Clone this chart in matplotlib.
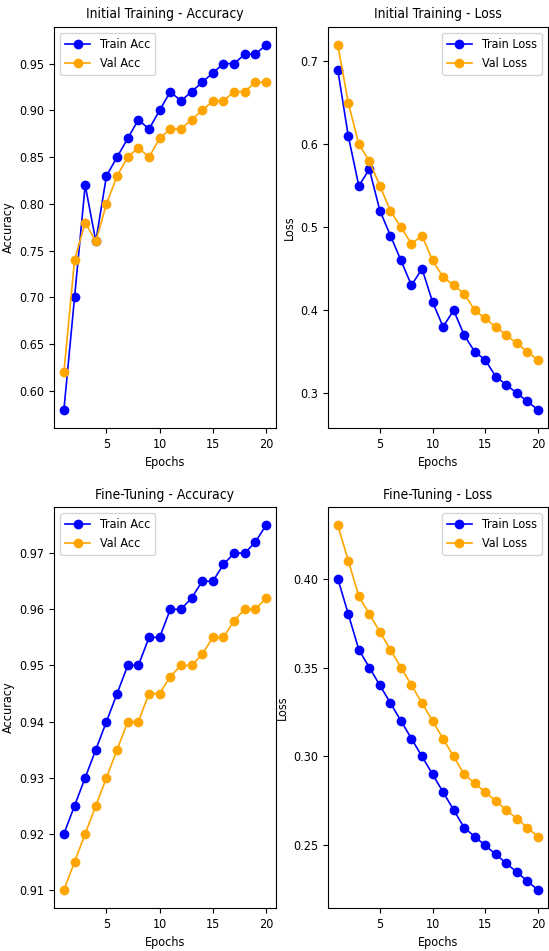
import numpy as np
import matplotlib
matplotlib.use("Agg")
import matplotlib.pyplot as plt
from matplotlib import font_manager

# the reference text is narrow, use a condensed face when one exists
fonts = font_manager.fontManager.ttflist
cond = [f for f in fonts if f.name == "DejaVu Sans" and f.stretch == "condensed"]
narrow = [f for f in fonts if "Narrow" in f.name or "Condensed" in f.name]
if cond:
    plt.rcParams["font.stretch"] = "condensed"
elif narrow:
    plt.rcParams["font.family"] = [narrow[0].name, "DejaVu Sans"]
print(sorted({(f.name, f.stretch) for f in fonts}))

epochs = list(range(1, 21))

init_train_acc = [0.58, 0.70, 0.82, 0.76, 0.83, 0.85, 0.87, 0.89, 0.88, 0.90,
                  0.92, 0.91, 0.92, 0.93, 0.94, 0.95, 0.95, 0.96, 0.96, 0.97]
init_val_acc = [0.62, 0.74, 0.78, 0.76, 0.80, 0.83, 0.85, 0.86, 0.85, 0.87,
                0.88, 0.88, 0.89, 0.90, 0.91, 0.91, 0.92, 0.92, 0.93, 0.93]
init_train_loss = [0.69, 0.61, 0.55, 0.57, 0.52, 0.49, 0.46, 0.43, 0.45, 0.41,
                   0.38, 0.40, 0.37, 0.35, 0.34, 0.32, 0.31, 0.30, 0.29, 0.28]
init_val_loss = [0.72, 0.65, 0.60, 0.58, 0.55, 0.52, 0.50, 0.48, 0.49, 0.46,
                 0.44, 0.43, 0.42, 0.40, 0.39, 0.38, 0.37, 0.36, 0.35, 0.34]

ft_train_acc = [0.920, 0.925, 0.930, 0.935, 0.940, 0.945, 0.950, 0.950, 0.955, 0.955,
                0.960, 0.960, 0.962, 0.965, 0.965, 0.968, 0.970, 0.970, 0.972, 0.975]
ft_val_acc = [0.910, 0.915, 0.920, 0.925, 0.930, 0.935, 0.940, 0.940, 0.945, 0.945,
              0.948, 0.950, 0.950, 0.952, 0.955, 0.955, 0.958, 0.960, 0.960, 0.962]
ft_train_loss = [0.400, 0.380, 0.360, 0.350, 0.340, 0.330, 0.320, 0.310, 0.300, 0.290,
                 0.280, 0.270, 0.260, 0.255, 0.250, 0.245, 0.240, 0.235, 0.230, 0.225]
ft_val_loss = [0.430, 0.410, 0.390, 0.380, 0.370, 0.360, 0.350, 0.340, 0.330, 0.320,
               0.310, 0.300, 0.290, 0.285, 0.280, 0.275, 0.270, 0.265, 0.260, 0.255]

fig = plt.figure(figsize=(5.49, 9.51), dpi=100)

boxes = [
    [0.098, 0.550, 0.405, 0.422],
    [0.597, 0.550, 0.401, 0.422],
    [0.098, 0.045, 0.405, 0.422],
    [0.597, 0.045, 0.401, 0.422],
]
# where the y labels sit, in axes fraction
ylab_x = [-0.175, -0.145, -0.175, -0.175]

panels = [
    ("Initial Training - Accuracy", "Accuracy", init_train_acc, init_val_acc, "Train Acc", "Val Acc", "upper left"),
    ("Initial Training - Loss", "Loss", init_train_loss, init_val_loss, "Train Loss", "Val Loss", "upper right"),
    ("Fine-Tuning - Accuracy", "Accuracy", ft_train_acc, ft_val_acc, "Train Acc", "Val Acc", "upper left"),
    ("Fine-Tuning - Loss", "Loss", ft_train_loss, ft_val_loss, "Train Loss", "Val Loss", "upper right"),
]

for box, lx, (title, ylabel, tr, va, l1, l2, loc) in zip(boxes, ylab_x, panels):
    ax = fig.add_axes(box)
    ax.plot(epochs, tr, marker="o", color="blue", label=l1, linewidth=1.2, markersize=6)
    ax.plot(epochs, va, marker="o", color="orange", label=l2, linewidth=1.2, markersize=6)
    ax.set_title(title, fontsize=10)
    ax.set_xlabel("Epochs", fontsize=9)
    ax.set_ylabel(ylabel, fontsize=9)
    ax.yaxis.set_label_coords(lx, 0.5)
    ax.set_xticks([5, 10, 15, 20])
    ax.tick_params(labelsize=9)
    ax.legend(loc=loc, fontsize=9)

plt.savefig("out.png", dpi=100)
plt.close()
